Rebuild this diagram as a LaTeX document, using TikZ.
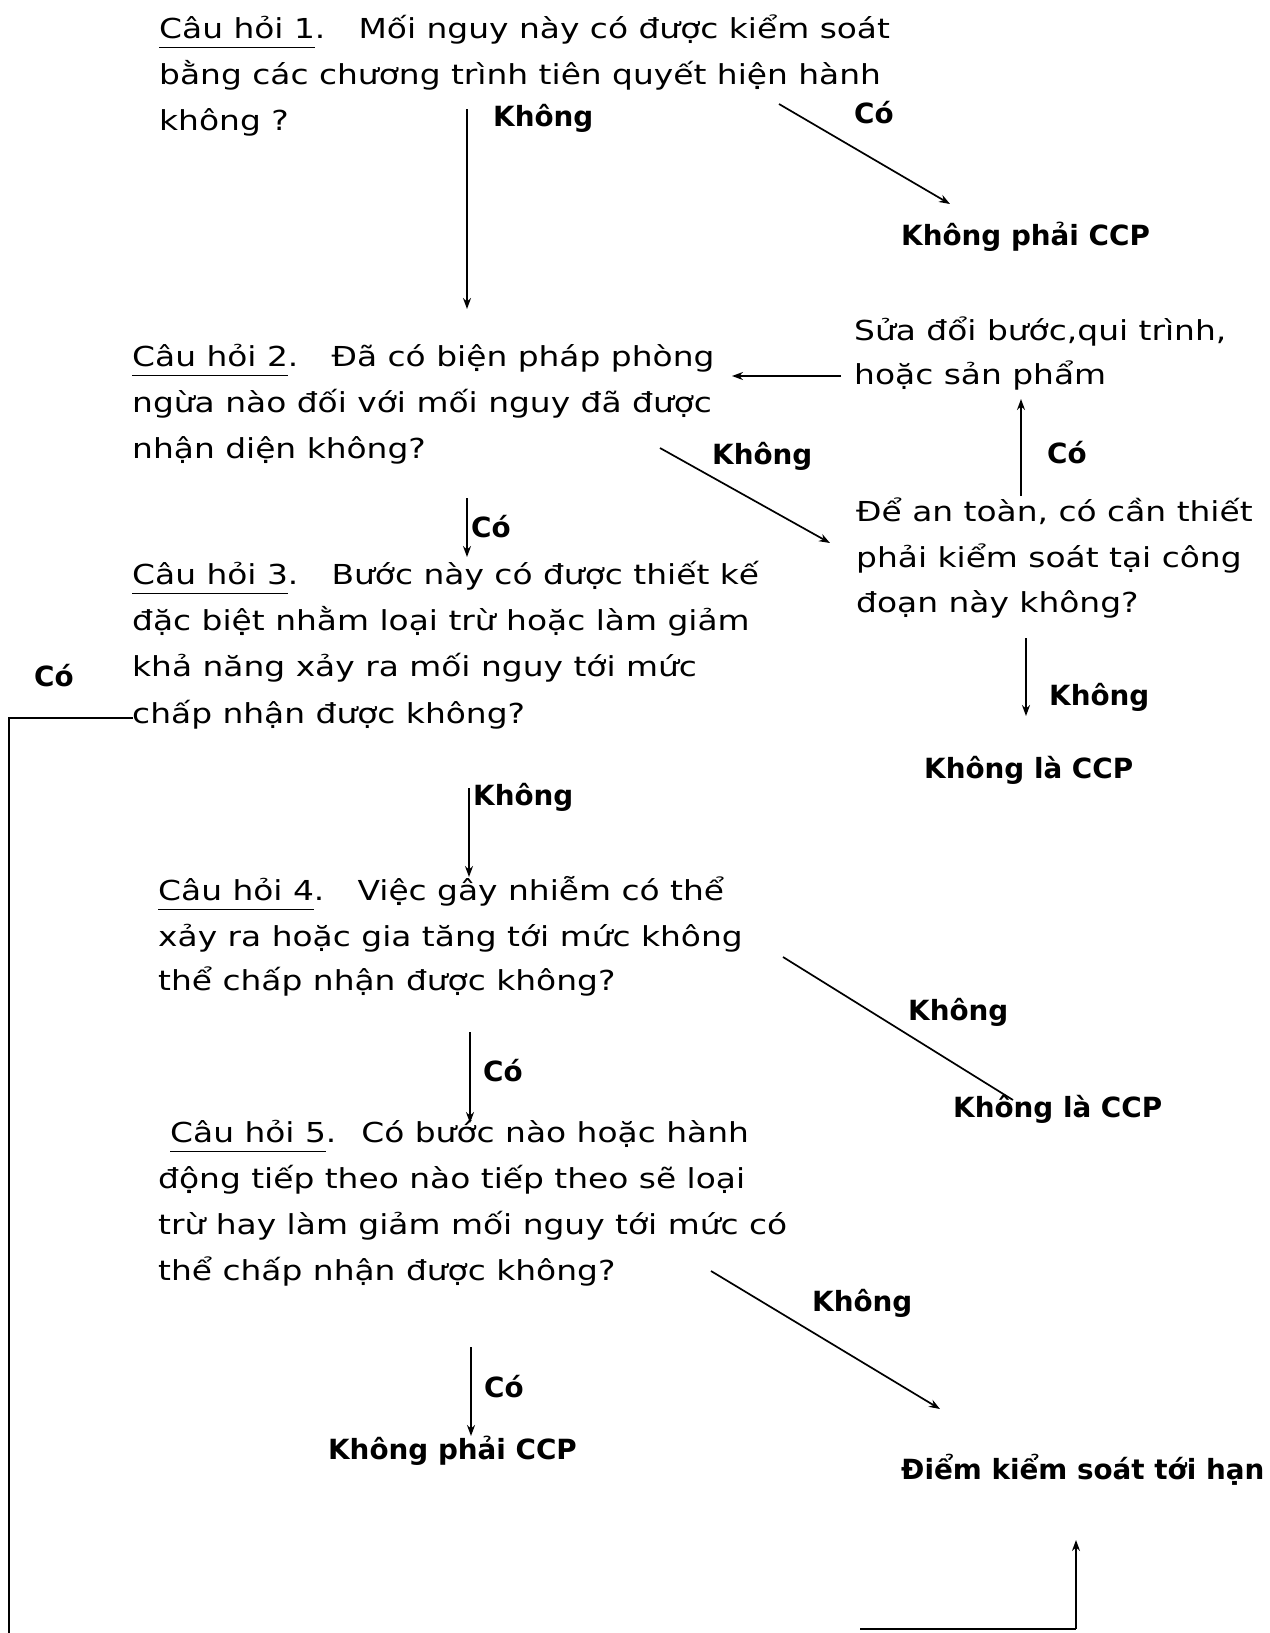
\documentclass[tikz,border=0pt]{standalone}
\usepackage{fontspec}
\setmainfont{DejaVu Sans}
\newfontfamily\regf[FakeStretch=1.195]{DejaVu Sans}
\newfontfamily\boldf{DejaVu Sans Bold}
\newcommand\qul[1]{\underline{#1\rule[-8pt]{0pt}{1pt}}}
\usetikzlibrary{arrows.meta}
\begin{document}
\begin{tikzpicture}[x=1pt,y=-1pt,
 txt/.style={anchor=base west,inner sep=0pt,yshift=3pt,font=\fontsize{27.5}{30}\regf},
 lbl/.style={anchor=base west,inner sep=0pt,yshift=2.5pt,font=\fontsize{27.8}{31}\boldf},
 arr/.style={line width=1.7pt,-{Stealth[length=11pt,width=8pt]}},
 ln/.style={line width=1.7pt}]
\useasboundingbox (0,0) rectangle (1269,1633);
\fill[white] (0,0) rectangle (1269,1633);

% Question 1
\node[txt] (q1a) at (159,41) {\qul{Câu hỏi 1}.\hspace{0.7em} Mối nguy này có được kiểm soát};
\node[txt] (q1b) at (159,87) {bằng các chương trình tiên quyết hiện hành};
\node[txt] (q1c) at (159,133) {không ?};
\node[lbl] (l1n) at (493,129) {Không};
\node[lbl] (l1y) at (854,126) {Có};
\node[lbl] (ncp1) at (901,248) {Không phải CCP};
\coordinate (a1s) at (467,109);
\coordinate (a1e) at (467,309);
\coordinate (b1s) at (779,104);
\coordinate (b1e) at (950,204);
\draw[arr] (a1s) -- (a1e);
\draw[arr] (b1s) -- (b1e);

% Question 2
\node[txt] (q2a) at (132,369) {\qul{Câu hỏi 2}.\hspace{0.7em} Đã có biện pháp phòng};
\node[txt] (q2b) at (132,415) {ngừa nào đối với mối nguy đã được};
\node[txt] (q2c) at (132,461) {nhận diện không?};
\node[txt] (mod1) at (854,343) {Sửa đổi bước,qui trình,};
\node[txt] (mod2) at (854,387) {hoặc sản phẩm};
\node[lbl] (l2y) at (1047,466) {Có};
\node[lbl] (l2n) at (712,467) {Không};
\node[txt] (saf1) at (856,524) {Để an toàn, có cần thiết};
\node[txt] (saf2) at (856,570) {phải kiểm soát tại công};
\node[txt] (saf3) at (856,615) {đoạn này không?};
\node[lbl] (l2nn) at (1049,708) {Không};
\node[lbl] (ncp2) at (924,781) {Không là CCP};
\coordinate (c2s) at (841,376);
\coordinate (c2e) at (732,376);
\coordinate (d2s) at (1021,496);
\coordinate (d2e) at (1021,399);
\coordinate (e2s) at (660,448);
\coordinate (e2e) at (830,543);
\coordinate (f2s) at (1026,638);
\coordinate (f2e) at (1026,716);
\draw[arr] (c2s) -- (c2e);
\draw[arr] (d2s) -- (d2e);
\draw[arr] (e2s) -- (e2e);
\draw[arr] (f2s) -- (f2e);

% Question 3
\node[lbl] (l3y) at (471,540) {Có};
\coordinate (g3s) at (467,498);
\coordinate (g3e) at (467,557);
\draw[arr] (g3s) -- (g3e);
\node[txt] (q3a) at (132,587) {\qul{Câu hỏi 3}.\hspace{0.7em} Bước này có được thiết kế};
\node[txt] (q3b) at (132,633) {đặc biệt nhằm loại trừ hoặc làm giảm};
\node[txt] (q3c) at (132,679) {khả năng xảy ra mối nguy tới mức};
\node[txt] (q3d) at (132,726) {chấp nhận được không?};
\node[lbl] (l3yl) at (34,689) {Có};
\coordinate (h3s) at (133,718);
\coordinate (h3c) at (9,718);
\coordinate (h3e) at (9,1633);
\draw[ln] (h3s) -- (h3c) -- (h3e);

\node[lbl] (l3n) at (473,808) {Không};
\coordinate (i3s) at (469,788);
\coordinate (i3e) at (469,877);
\draw[arr] (i3s) -- (i3e);

% Question 4
\node[txt] (q4a) at (158,903) {\qul{Câu hỏi 4}.\hspace{0.7em} Việc gây nhiễm có thể};
\node[txt] (q4b) at (158,949) {xảy ra hoặc gia tăng tới mức không};
\node[txt] (q4c) at (158,993) {thể chấp nhận được không?};
\coordinate (j4s) at (783,957);
\coordinate (j4e) at (1013,1100);
\draw[ln] (j4s) -- (j4e);
\node[lbl] (l4n) at (908,1023) {Không};
\node[lbl] (ncp3) at (953,1120) {Không là CCP};
\node[lbl] (l4y) at (483,1084) {Có};
\coordinate (k4s) at (470,1032);
\coordinate (k4e) at (470,1123);
\draw[arr] (k4s) -- (k4e);

% Question 5
\node[txt] (q5a) at (170,1145) {\qul{Câu hỏi 5}.\hspace{0.4em} Có bước nào hoặc hành};
\node[txt] (q5b) at (158,1191) {động tiếp theo nào tiếp theo sẽ loại};
\node[txt] (q5c) at (158,1237) {trừ hay làm giảm mối nguy tới mức có};
\node[txt] (q5d) at (158,1283) {thể chấp nhận được không?};
\coordinate (m5s) at (711,1271);
\coordinate (m5e) at (940,1409);
\draw[arr] (m5s) -- (m5e);
\node[lbl] (l5n) at (812,1314) {Không};
\coordinate (n5s) at (471,1347);
\coordinate (n5e) at (471,1436);
\draw[arr] (n5s) -- (n5e);
\node[lbl] (l5y) at (484,1400) {Có};
\node[lbl] (ncp4) at (328,1462) {Không phải CCP};
\node[lbl] (ccp) at (901,1482) {Điểm kiểm soát tới hạn};
\coordinate (p5s) at (860,1629);
\coordinate (p5c) at (1076,1629);
\coordinate (p5e) at (1076,1540);
\draw[ln] (p5s) -- (p5c);
\draw[arr] (p5c) -- (p5e);
\end{tikzpicture}
\end{document}
